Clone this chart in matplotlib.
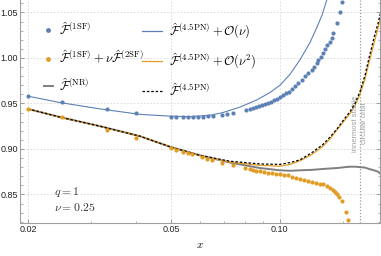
import matplotlib
matplotlib.use("Agg")
import matplotlib.pyplot as plt
from matplotlib.lines import Line2D
from matplotlib.ticker import FixedLocator, NullFormatter, MultipleLocator

plt.rcParams['mathtext.fontset'] = 'cm'
plt.rcParams['font.family'] = ['Liberation Sans', 'DejaVu Sans']

# ---- data ----
x_1sf = [0.0200, 0.02486, 0.03315, 0.03991, 0.04992, 0.05154, 0.05390, 0.05565, 0.05746,
         0.05933, 0.06126, 0.06325, 0.06530, 0.06917, 0.07142, 0.07421, 0.08065, 0.08274,
         0.08434, 0.08597, 0.08764, 0.08934, 0.09107, 0.09283, 0.09463, 0.09647, 0.09834,
         0.10024, 0.10218, 0.10416, 0.10618, 0.10824, 0.11034, 0.11247, 0.11517, 0.11763,
         0.11990, 0.12277, 0.12459, 0.12677, 0.12782, 0.13005, 0.13197, 0.13367, 0.13513,
         0.13800, 0.13951, 0.14067, 0.14404, 0.14712, 0.14873]
f_1sf = [0.958, 0.952, 0.944, 0.940, 0.9355, 0.9355, 0.9350, 0.9350, 0.9355,
         0.9355, 0.9355, 0.9358, 0.9360, 0.9375, 0.9385, 0.9390, 0.9425, 0.944,
         0.945, 0.946, 0.947, 0.948, 0.949, 0.951, 0.952, 0.954, 0.955,
         0.957, 0.959, 0.961, 0.963, 0.966, 0.969, 0.972, 0.976, 0.980,
         0.983, 0.987, 0.990, 0.994, 0.998, 1.001, 1.005, 1.010, 1.014,
         1.018, 1.022, 1.027, 1.038, 1.050, 1.062]

x_2sf = [0.0200, 0.02486, 0.03315, 0.03991, 0.04992, 0.05154, 0.05390, 0.05565, 0.05709,
         0.06086, 0.06284, 0.06489, 0.06917, 0.07421, 0.08013, 0.08274, 0.08434, 0.08597,
         0.08820, 0.09049, 0.09283, 0.09524, 0.09771, 0.10024, 0.10284, 0.10550, 0.10824,
         0.11104, 0.11392, 0.11687, 0.11990, 0.12301, 0.12620, 0.12947, 0.13223, 0.13513,
         0.13800, 0.14094, 0.14249, 0.14404, 0.14646, 0.14873, 0.15259, 0.15455]
f_2sf = [0.944, 0.935, 0.921, 0.912, 0.901, 0.899, 0.897, 0.896, 0.8945,
         0.891, 0.889, 0.888, 0.885, 0.882, 0.879, 0.878, 0.877, 0.876,
         0.8755, 0.875, 0.874, 0.8735, 0.873, 0.8725, 0.8715, 0.871, 0.8695,
         0.868, 0.867, 0.866, 0.865, 0.8635, 0.8625, 0.862, 0.861, 0.8593,
         0.8574, 0.855, 0.853, 0.851, 0.847, 0.843, 0.831, 0.822]

x_pn1 = [0.0200, 0.02454, 0.03170, 0.04094, 0.04992, 0.05637, 0.06406, 0.06962, 0.07761,
         0.08653, 0.09402, 0.1002, 0.10686, 0.11392, 0.12145, 0.12701, 0.13113, 0.13626]
f_pn1 = [0.958, 0.951, 0.944, 0.938, 0.936, 0.9355, 0.937, 0.940, 0.946,
         0.954, 0.962, 0.970, 0.982, 0.998, 1.017, 1.034, 1.047, 1.068]

x_pn = [0.0200, 0.02454, 0.03170, 0.04094, 0.04992, 0.06009, 0.07280, 0.08820, 0.1002,
        0.10686, 0.11392, 0.12301, 0.13197, 0.13800, 0.14432, 0.15191, 0.15684, 0.16194,
        0.16720, 0.17264, 0.17711, 0.18286, 0.18761, 0.19124]
f_pn = [0.944, 0.935, 0.925, 0.914, 0.902, 0.893, 0.8865, 0.8835, 0.883,
        0.885, 0.888, 0.896, 0.905, 0.913, 0.922, 0.934, 0.941, 0.950,
        0.963, 0.981, 1.000, 1.022, 1.038, 1.052]
f_pn2 = [0.944, 0.935, 0.925, 0.914, 0.902, 0.8925, 0.8855, 0.882, 0.881,
         0.883, 0.887, 0.894, 0.903, 0.911, 0.921, 0.932, 0.939, 0.948,
         0.960, 0.977, 0.995, 1.016, 1.033, 1.046]
f_nr = [0.944, 0.935, 0.925, 0.914, 0.902, 0.893, 0.885, 0.879, 0.8765,
        0.876, 0.8765, 0.877, 0.878, 0.8785, 0.879, 0.880, 0.8805, 0.8805,
        0.880, 0.8795, 0.878, 0.8765, 0.875, 0.872]

x_isco = 1.0 / 6.0
x_major = [0.02, 0.05, 0.10]
x_major_labels = ["0.02", "0.05", "0.10"]
x_minor = [0.03, 0.04, 0.06, 0.07, 0.08, 0.09, 0.15]
y_major = [0.85, 0.90, 0.95, 1.00, 1.05]
y_major_labels = ["0.85", "0.90", "0.95", "1.00", "1.05"]

blue = "#5E81B5"
orange = "#E19C24"

fig = plt.figure(figsize=(3.81, 2.56), dpi=100)
ax = fig.add_axes([20/381, 33/256, 360/381, 223/256])

ax.set_xscale('log')
ax.set_xlim(0.01901, 0.1900)
ax.set_ylim(0.8186, 1.0637)

# grid
for xv in x_major:
    ax.axvline(xv, color='#d8d8d8', lw=0.6, ls=(0, (2, 2)), zorder=0)
for yv in y_major:
    ax.axhline(yv, color='#d8d8d8', lw=0.6, ls=(0, (2, 2)), zorder=0)
ax.axvline(x_isco, color='#999999', lw=0.9, ls=(0, (1, 1.5)), zorder=1)

ax.plot(x_pn, f_nr, color='#7f7f7f', lw=1.4, zorder=2)
ax.plot(x_pn1, f_pn1, color=blue, lw=0.8, zorder=3)
ax.plot(x_pn, f_pn2, color=orange, lw=0.9, zorder=3)
ax.plot(x_pn, f_pn, color='black', lw=0.9, ls=(0, (2, 1.5)), zorder=4)
ax.plot(x_1sf, f_1sf, 'o', color=blue, ms=3, mec='none', zorder=5)
ax.plot(x_2sf, f_2sf, 'o', color=orange, ms=3, mec='none', zorder=5)

ax.text(x_isco, 0.928, "innermost stable\ncircular orbit", rotation=90,
        ha='center', va='center', fontsize=5.5, color='#a0a0a0', linespacing=1.4)

# ticks
ax.xaxis.set_major_locator(FixedLocator(x_major))
ax.set_xticklabels(x_major_labels)
ax.xaxis.set_minor_locator(FixedLocator(x_minor))
ax.xaxis.set_minor_formatter(NullFormatter())
ax.yaxis.set_major_locator(FixedLocator(y_major))
ax.set_yticklabels(y_major_labels)
ax.yaxis.set_minor_locator(MultipleLocator(0.01))
ax.tick_params(which='both', direction='in', colors='#909090', labelcolor='#222222',
               labelsize=6.5, pad=1.5, top=False, right=True)
ax.tick_params(which='major', length=3, width=0.6)
ax.tick_params(which='minor', length=1.8, width=0.5)
ax.tick_params(axis='y', which='both', labelright=False)
for s in ax.spines.values():
    s.set_color('#a0a0a0')
    s.set_linewidth(0.8)
ax.spines['top'].set_visible(False)

ax.set_xlabel("$x$", fontsize=8, labelpad=4)

ax.text(0.095, 0.125, "$q = 1$", transform=ax.transAxes, fontsize=8.5, color='#333333')
ax.text(0.095, 0.055, r"$\nu = 0.25$", transform=ax.transAxes, fontsize=8.5, color='#333333')

# legends
h1 = [Line2D([], [], ls='none', marker='o', ms=3.5, color=blue, mec='none'),
      Line2D([], [], ls='none', marker='o', ms=3.5, color=orange, mec='none'),
      Line2D([], [], color='#7f7f7f', lw=1.4)]
l1 = [r"$\hat{\mathcal{F}}^{(\mathrm{1SF})}$",
      r"$\hat{\mathcal{F}}^{(\mathrm{1SF})} + \nu\hat{\mathcal{F}}^{(\mathrm{2SF})}$",
      r"$\hat{\mathcal{F}}^{(\mathrm{NR})}$"]
leg1 = ax.legend(h1, l1, loc='upper left', bbox_to_anchor=(0.067, 0.905), frameon=False,
                 fontsize=9, handlelength=0.7, handletextpad=0.5, labelspacing=0.88,
                 borderaxespad=0, borderpad=0)
ax.add_artist(leg1)
h2 = [Line2D([], [], color=blue, lw=0.9),
      Line2D([], [], color=orange, lw=0.9),
      Line2D([], [], color='black', lw=0.9, ls=(0, (2, 1.5)))]
l2 = [r"$\hat{\mathcal{F}}^{(\mathrm{4.5PN})} + \mathcal{O}(\nu)$",
      r"$\hat{\mathcal{F}}^{(\mathrm{4.5PN})} + \mathcal{O}(\nu^2)$",
      r"$\hat{\mathcal{F}}^{(\mathrm{4.5PN})}$"]
leg2 = ax.legend(h2, l2, loc='upper left', bbox_to_anchor=(0.34, 0.905), frameon=False,
                 fontsize=9, handlelength=1.6, handletextpad=0.5, labelspacing=0.88,
                 borderaxespad=0, borderpad=0)

fig.savefig("out.png", dpi=100)
